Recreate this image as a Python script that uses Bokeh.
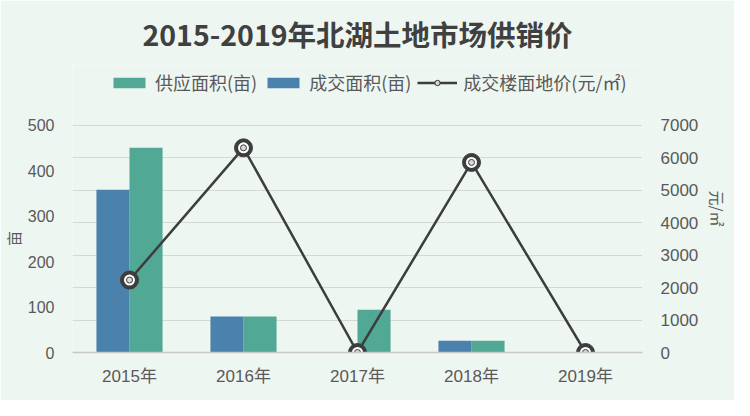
import math
from bokeh.plotting import figure
from bokeh.models import (ColumnDataSource, Range1d, LinearAxis, Legend, LegendItem,
                          FixedTicker, Grid, Title)
from bokeh.transform import dodge
from bokeh.embed import file_html
from bokeh.resources import INLINE

years = ["2015年", "2016年", "2017年", "2018年", "2019年"]
supply_area = [450, 79, 94, 26, 0]        # 供应面积(亩)
deal_area = [358, 79, 0, 26, 0]           # 成交面积(亩)
deal_price = [2230, 6300, 0, 5850, 0]     # 成交楼面地价(元/㎡)
left_ticks = [0, 100, 200, 300, 400, 500]
right_ticks = [0, 1000, 2000, 3000, 4000, 5000, 6000, 7000]

GREEN = "#50a895"
BLUE = "#4a82ad"
DARK = "#3d3d3d"
TXT = "#595959"
BG = "#eef6f1"
CJK = "Noto Sans CJK SC"
NUM = "Liberation Sans, Noto Sans CJK SC"

# layout: axis max (500 / 7000) sits 229px above the baseline; the frame reaches
# further up (290px) so that the legend can sit inside it.
AXIS_PX = 229.0
FRAME_PX = 290.0
W, H = 734, 400
BL, BR, BB = 63, 82, 48
BT = H - BB - int(FRAME_PX)

src = ColumnDataSource(dict(year=years, supply=supply_area, deal=deal_area, price=deal_price))

p = figure(width=W, height=H, x_range=years,
           y_range=Range1d(0, left_ticks[-1] * FRAME_PX / AXIS_PX),
           output_backend="svg", toolbar_location=None,
           min_border_left=BL, min_border_right=BR, min_border_top=BT, min_border_bottom=BB)
p.background_fill_color = BG
p.border_fill_color = BG
p.outline_line_color = None

p.extra_y_ranges = {"price": Range1d(0, right_ticks[-1] * FRAME_PX / AXIS_PX)}

rb = p.vbar(x=dodge("year", 0.145, range=p.x_range), top="supply", width=0.29,
            source=src, color=GREEN, line_color=None)
rg = p.vbar(x=dodge("year", -0.145, range=p.x_range), top="deal", width=0.29,
            source=src, color=BLUE, line_color=None)
ln = p.line(x="year", y="price", source=src, y_range_name="price", line_color=DARK, line_width=2.5)
c1 = p.scatter(x="year", y="price", source=src, y_range_name="price", size=18,
               fill_color=DARK, line_color=DARK)
c2 = p.scatter(x="year", y="price", source=src, y_range_name="price", size=11,
               fill_color="white", line_color=None)
c3 = p.scatter(x="year", y="price", source=src, y_range_name="price", size=6,
               fill_color="#d8d8d8", line_color=DARK, line_width=1)

# axes
p.yaxis.ticker = FixedTicker(ticks=left_ticks)
right = LinearAxis(y_range_name="price", ticker=FixedTicker(ticks=right_ticks))
p.add_layout(right, "right")

for ax, fs in [(p.yaxis[0], "16px"), (right, "17px")]:
    ax.axis_line_color = None
    ax.major_tick_line_color = None
    ax.minor_tick_line_color = None
    ax.major_label_text_font = NUM
    ax.major_label_text_font_size = fs
    ax.major_label_text_color = TXT
    ax.major_label_standoff = 12

p.add_layout(Title(text="亩", align="left", offset=AXIS_PX / 2 - 8, text_font=CJK,
                   text_font_size="15px", text_font_style="normal", text_color=TXT,
                   standoff=1), "left")
p.add_layout(Title(text="元/㎡", align="center", offset=(FRAME_PX - AXIS_PX) / 2, text_font=CJK,
                   text_font_size="15px", text_font_style="normal", text_color=TXT,
                   standoff=10), "right")

p.xaxis.axis_line_color = "#c8c8c8"
p.xaxis.axis_line_width = 1.5
p.xaxis.major_tick_line_color = None
p.xaxis.minor_tick_line_color = None
p.xaxis.major_label_text_font = NUM
p.xaxis.major_label_text_font_size = "17px"
p.xaxis.major_label_text_color = TXT
p.xaxis.major_label_standoff = 8

p.xgrid.grid_line_color = None
p.ygrid.grid_line_color = None
g = Grid(dimension=1, ticker=FixedTicker(ticks=right_ticks), y_range_name="price",
         grid_line_color="#d4d8d6", grid_line_width=1.2)
p.add_layout(g)

legend = Legend(items=[LegendItem(label="供应面积(亩)", renderers=[rb]),
                       LegendItem(label="成交面积(亩)", renderers=[rg]),
                       LegendItem(label="成交楼面地价(元/㎡)", renderers=[ln, c1, c2, c3])],
                orientation="horizontal", location=(37, 257),
                background_fill_alpha=0, border_line_color=None,
                label_text_font=CJK, label_text_font_size="18px", label_text_color=TXT,
                glyph_width=40, glyph_height=13, spacing=6, label_standoff=6, padding=0, margin=0)
p.add_layout(legend)

p.title = Title(text="2015-2019年北湖土地市场供销价", align="center",
                text_font=CJK, text_font_size="28.5px", text_font_style="bold",
                text_color="#404040", standoff=21)

open("out.html", "w").write(file_html(p, INLINE))
